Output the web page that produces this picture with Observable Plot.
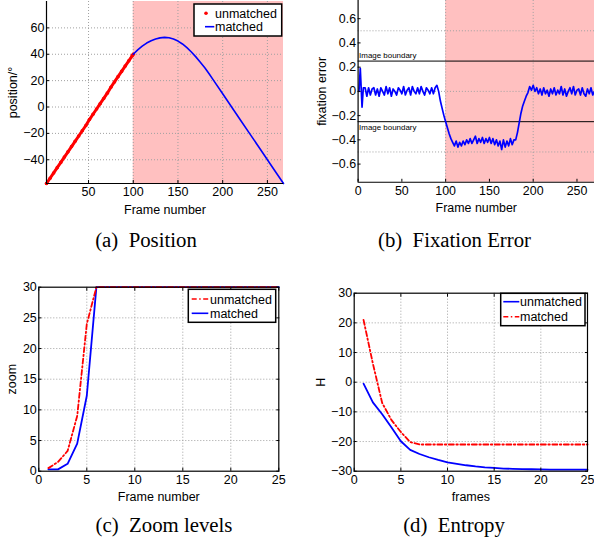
<!DOCTYPE html>
<html><head><meta charset="utf-8">
<script src="https://cdn.jsdelivr.net/npm/d3@7"></script>
<script src="https://cdn.jsdelivr.net/npm/@observablehq/plot@0.6"></script>
<style>
html,body{margin:0;padding:0;background:#fff;overflow:hidden;width:594px;height:548px;}
#root{position:relative;width:594px;height:548px;overflow:hidden;}
.panel{position:absolute;}
#overlay{position:absolute;left:0;top:0;}
</style></head><body><div id="root"></div>
<script>
// ---------- data ----------
// (a) Position
const posUnmatchedFrames = [3,7,11,15,19,23,27,31,35,39,43,47,51,55,59,63,67,71,75,79,83,87,91,95,99,100];
const posUnmatchedValues = [-58,-54,-50,-46,-42,-38,-34,-30,-26,-22,-18,-14,-9.5,-5.5,-1.5,2.5,6.5,10.5,15,19,23,27,31,35,39,40];
const posMatchedFrames = [100,105,110,115,120,125,130,135,140,145,150,155,160,165,170,175,180,185,190,200,210,220,230,240,250,260,268];
const posMatchedValues = [40,43.3,46.1,48.5,50.3,51.6,52.4,52.8,52.5,51.5,50,47.8,45,41.7,38,34,29.8,25,20,10,0,-10,-20,-30,-40,-50,-58];
const posXTicks = [50,100,150,200,250];
const posYTicks = [-40,-20,0,20,40,60];
const posXDomain = [3,268];
const posYDomain = [-58,80];

// (b) Fixation error
const fixStartFrames = [1,2.5,4.5,6];
const fixStartValues = [0.0,0.19,-0.13,0.03];
const fixValues = [
  0.03,-0.04,0.03,-0.03,0.02,0.03,-0.03,0.02,-0.04,0.03,
  0.00,-0.03,0.04,-0.02,0.03,-0.04,0.02,0.00,-0.03,0.03,
  0.01,-0.02,0.04,-0.03,0.01,0.03,-0.03,0.04,0.00,-0.02,
  0.03,-0.02,0.04,0.00,-0.03,0.03,0.01,-0.02,0.03,-0.02,
  0.03,0.05,0.00,-0.08,-0.14,-0.20,-0.25,-0.30,-0.35,-0.39,
  -0.42,-0.45,-0.41,-0.46,-0.42,-0.45,-0.41,-0.44,-0.40,-0.43,
  -0.39,-0.43,-0.40,-0.37,-0.43,-0.39,-0.42,-0.38,-0.43,-0.39,
  -0.42,-0.38,-0.43,-0.39,-0.44,-0.40,-0.45,-0.41,-0.48,-0.40,
  -0.46,-0.41,-0.45,-0.39,-0.44,-0.40,-0.40,-0.34,-0.26,-0.18,
  -0.12,-0.08,-0.04,-0.01,0.04,0.01,0.05,0.00,0.03,-0.02,
  0.02,-0.03,0.03,-0.02,0.01,-0.04,0.02,-0.02,0.03,-0.03,
  0.01,-0.02,0.04,-0.03,0.02,-0.04,0.00,0.03,-0.02,0.04,
  -0.03,0.01,0.02,-0.03,0.03,-0.02,-0.04,0.02,-0.02,0.03,
  -0.03,0.00
];
const fixFrames = d3.range(8, 271, 2); // frame index for fixValues
const fixXTicks = [0,50,100,150,200,250];
const fixYTicks = [-0.6,-0.4,-0.2,0,0.2,0.4,0.6];
const fixXGrid = [100,200];
const fixYGrid = [-0.5,0,0.5];
const fixXDomain = [0,270];
const fixYDomain = [-0.75,0.75];
const boundaries = [0.25,-0.25];
const boundaryLabel = "Image boundary";

// shaded (unmatched->matched) region
const shade = [{start:100, end:270}];

// (c) Zoom levels
const zoomFrames = [1,2,3,4,5,6,7,8,9,10,11,12,13,14,15,16,17,18,19,20,21,22,23,24,25];
const zoomUnmatched = [0.5,1.5,3.3,9,24,30,30,30,30,30,30,30,30,30,30,30,30,30,30,30,30,30,30,30,30];
const zoomMatched = [0.3,0.3,1.2,4.5,12.3,30,30,30,30,30,30,30,30,30,30,30,30,30,30,30,30,30,30,30,30];
const zoomXTicks = [0,5,10,15,20,25];
const zoomYTicks = [0,5,10,15,20,25,30];
const zoomXGrid = [5,10,15,20];
const zoomYGrid = [5,10,15,20,25];

// (d) Entropy
const entFrames = [1,2,3,4,5,6,7,8,9,10,11,12,13,14,15,16,17,18,19,20,21,22,23,24,25];
const entUnmatched = [-0.5,-6.8,-10.8,-15.3,-19.9,-22.8,-24.2,-25.3,-26.2,-27,-27.5,-28,-28.4,-28.7,-28.9,-29.1,-29.2,-29.3,-29.35,-29.4,-29.45,-29.5,-29.5,-29.5,-29.5];
const entMatched = [21,6.3,-7,-12.8,-16.8,-20.2,-21,-21,-21,-21,-21,-21,-21,-21,-21,-21,-21,-21,-21,-21,-21,-21,-21,-21,-21];
const entXTicks = [0,5,10,15,20,25];
const entYTicks = [-30,-20,-10,0,10,20,30];
const entXGrid = [5,10,15,20];
const entYGrid = [-20,-10,0,10,20];

const captions = ["(a)\u2002Position","(b)\u2002Fixation Error","(c)\u2002Zoom levels","(d)\u2002Entropy"];

// ---------- style ----------
const red = "#ff0000", blue = "#0000ff", pink = "#ffc0c0", gridColor = "#a0a0a0";
const fontFamily = '"Liberation Sans", Arial, Helvetica, sans-serif';
const dashDot = "5,2.5,1.5,2.5";
const fmt = d => (d < 0 ? "\u2212" + Math.abs(d) : String(d));
const zip = (xs, ys) => xs.map((x, i) => ({x, y: ys[i]}));
const style = {fontFamily, fontSize: "12.5px", background: "transparent", overflow: "visible", color: "black"};

function grid(xs, ys) {
  return [
    Plot.gridX(xs, {stroke: gridColor, strokeOpacity: 1, strokeDasharray: "1,2", strokeWidth: 1}),
    Plot.gridY(ys, {stroke: gridColor, strokeOpacity: 1, strokeDasharray: "1,2", strokeWidth: 1})
  ];
}
function axes({xTicks, yTicks, xLabel, yLabel, xLabelOffset, yLabelOffset, box}) {
  const none = () => "";
  const m = [
    Plot.axisX({ticks: xTicks, tickSize: 0, tickPadding: 4, tickFormat: fmt, label: xLabel, labelAnchor: "center", labelArrow: "none", labelOffset: xLabelOffset}),
    Plot.axisX({ticks: xTicks, tickSize: -3, tickFormat: none, label: null}),
    Plot.axisY({ticks: yTicks, tickSize: 0, tickPadding: 2, tickFormat: fmt, label: yLabel, labelAnchor: "center", labelArrow: "none", labelOffset: yLabelOffset}),
    Plot.axisY({ticks: yTicks, tickSize: -3, tickFormat: none, label: null})
  ];
  if (box) {
    m.push(Plot.axisX({anchor: "top", ticks: xTicks, tickSize: -3, tickFormat: none, label: null}));
    m.push(Plot.axisY({anchor: "right", ticks: yTicks, tickSize: -3, tickFormat: none, label: null}));
  }
  return m;
}

const root = document.getElementById("root");
function place(svg, left, top) {
  const d = document.createElement("div");
  d.className = "panel";
  d.style.left = left + "px"; d.style.top = top + "px";
  d.appendChild(svg);
  root.appendChild(d);
}

// ---------- (a) ----------
place(Plot.plot({
  width: 297, height: 215, marginLeft: 46, marginRight: 14, marginTop: 1, marginBottom: 32,
  x: {domain: posXDomain}, y: {domain: posYDomain}, style,
  marks: [
    Plot.rect(shade, {x1: "start", x2: "end", fill: pink, clip: true}),
    ...grid(posXTicks, posYTicks),
    Plot.line(zip(posUnmatchedFrames, posUnmatchedValues), {x: "x", y: "y", stroke: red, strokeWidth: 3}),
    Plot.dot(zip(posUnmatchedFrames, posUnmatchedValues), {x: "x", y: "y", r: 1.8, fill: red}),
    Plot.line(zip(posMatchedFrames, posMatchedValues), {x: "x", y: "y", stroke: blue, strokeWidth: 1.6}),
    ...axes({xTicks: posXTicks, yTicks: posYTicks, xLabel: "Frame number", yLabel: "position/\u00b0", xLabelOffset: 30, yLabelOffset: 38}),
    Plot.ruleX([posXDomain[0]], {stroke: "black", strokeWidth: 1.2}),
    Plot.ruleY([posYDomain[0]], {stroke: "black", strokeWidth: 1.2})
  ]
}), 0, 0);

// ---------- (b) ----------
place(Plot.plot({
  width: 299, height: 215, marginLeft: 61, marginRight: 0, marginTop: 0, marginBottom: 32,
  x: {domain: fixXDomain}, y: {domain: fixYDomain}, style,
  marks: [
    Plot.rect(shade, {x1: "start", x2: "end", fill: pink}),
    ...grid(fixXGrid, fixYGrid),
    Plot.ruleY(boundaries, {stroke: "black", strokeWidth: 1}),
    Plot.text([boundaries[0]], {x: fixXDomain[0], y: d => d, text: () => boundaryLabel, textAnchor: "start", lineAnchor: "bottom", dx: 1, dy: -3, fontSize: 8}),
    Plot.text([boundaries[1]], {x: fixXDomain[0], y: d => d, text: () => boundaryLabel, textAnchor: "start", lineAnchor: "top", dx: 1, dy: 3, fontSize: 8}),
    Plot.line(zip(fixStartFrames.concat(fixFrames), fixStartValues.concat(fixValues)), {x: "x", y: "y", stroke: blue, strokeWidth: 1.7}),
    ...axes({xTicks: fixXTicks, yTicks: fixYTicks, xLabel: "Frame number", yLabel: "fixation error", xLabelOffset: 30, yLabelOffset: 41}),
    Plot.ruleX([fixXDomain[0]], {stroke: "black", strokeWidth: 1.2}),
    Plot.ruleY([fixYDomain[0]], {stroke: "black", strokeWidth: 1.2})
  ]
}), 297, 0);

// ---------- (c) ----------
place(Plot.plot({
  width: 297, height: 225, marginLeft: 38.3, marginRight: 18.7, marginTop: 6.7, marginBottom: 34.3,
  x: {domain: [0, 25]}, y: {domain: [0, 30]}, style,
  marks: [
    ...grid(zoomXGrid, zoomYGrid),
    Plot.line(zip(zoomFrames, zoomMatched), {x: "x", y: "y", stroke: blue, strokeWidth: 1.8}),
    Plot.line(zip(zoomFrames, zoomUnmatched), {x: "x", y: "y", stroke: red, strokeWidth: 1.8, strokeDasharray: dashDot}),
    ...axes({xTicks: zoomXTicks, yTicks: zoomYTicks, xLabel: "Frame number", yLabel: "zoom", xLabelOffset: 30, yLabelOffset: 32, box: true}),
    Plot.frame({stroke: "black", strokeWidth: 1.2})
  ]
}), 0, 280);

// ---------- (d) ----------
place(Plot.plot({
  width: 297, height: 225, marginLeft: 56.7, marginRight: 7, marginTop: 12.7, marginBottom: 34.3,
  x: {domain: [0, 25]}, y: {domain: [-30, 30]}, style,
  marks: [
    ...grid(entXGrid, entYGrid),
    Plot.line(zip(entFrames, entMatched), {x: "x", y: "y", stroke: red, strokeWidth: 1.8, strokeDasharray: dashDot}),
    Plot.line(zip(entFrames, entUnmatched), {x: "x", y: "y", stroke: blue, strokeWidth: 1.8}),
    ...axes({xTicks: entXTicks, yTicks: entYTicks, xLabel: "frames", yLabel: "H", xLabelOffset: 30, yLabelOffset: 38, box: true}),
    Plot.frame({stroke: "black", strokeWidth: 1.2})
  ]
}), 297, 280);

// ---------- overlay: legends + captions ----------
const ov = d3.select(root).append("svg").attr("id", "overlay").attr("width", 594).attr("height", 548)
  .style("font-family", fontFamily);

function legend(box, rows) {
  ov.append("rect").attr("x", box.x).attr("y", box.y).attr("width", box.w).attr("height", box.h)
    .attr("fill", "white").attr("stroke", "black").attr("stroke-width", 1.5);
  rows.forEach(r => {
    if (r.kind === "dot") {
      ov.append("circle").attr("cx", r.cx).attr("cy", r.y).attr("r", 1.8).attr("fill", r.color);
    } else {
      ov.append("line").attr("x1", r.x1).attr("x2", r.x2).attr("y1", r.y).attr("y2", r.y)
        .attr("stroke", r.color).attr("stroke-width", 1.6).attr("stroke-dasharray", r.dash || null);
    }
    ov.append("text").attr("x", r.tx).attr("y", r.y).attr("dy", "0.36em").attr("font-size", 12.5).text(r.label);
  });
}
legend({x: 194, y: 4, w: 87.7, h: 32}, [
  {kind: "dot", cx: 206, y: 13.3, color: red, tx: 215, label: "unmatched"},
  {kind: "line", x1: 205, x2: 214.3, y: 26.7, color: blue, tx: 215, label: "matched"}
]);
legend({x: 188.3, y: 289.3, w: 87.4, h: 33}, [
  {kind: "line", x1: 191.7, x2: 208.3, y: 299, color: red, dash: dashDot, tx: 210, label: "unmatched"},
  {kind: "line", x1: 191.7, x2: 208.3, y: 313.3, color: blue, tx: 210, label: "matched"}
]);
legend({x: 500.7, y: 293.3, w: 84.3, h: 32.4}, [
  {kind: "line", x1: 503.3, x2: 519.3, y: 301.7, color: blue, tx: 520, label: "unmatched"},
  {kind: "line", x1: 503.3, x2: 519.3, y: 316.7, color: red, dash: dashDot, tx: 520, label: "matched"}
]);

const capPos = [[146, 247], [454.5, 247], [164, 531.5], [454, 531.5]];
captions.forEach((c, i) => {
  ov.append("text").attr("x", capPos[i][0]).attr("y", capPos[i][1]).attr("text-anchor", "middle")
    .attr("font-family", '"Liberation Serif", "Times New Roman", serif').attr("font-size", 20.8).text(c);
});
</script></body></html>
